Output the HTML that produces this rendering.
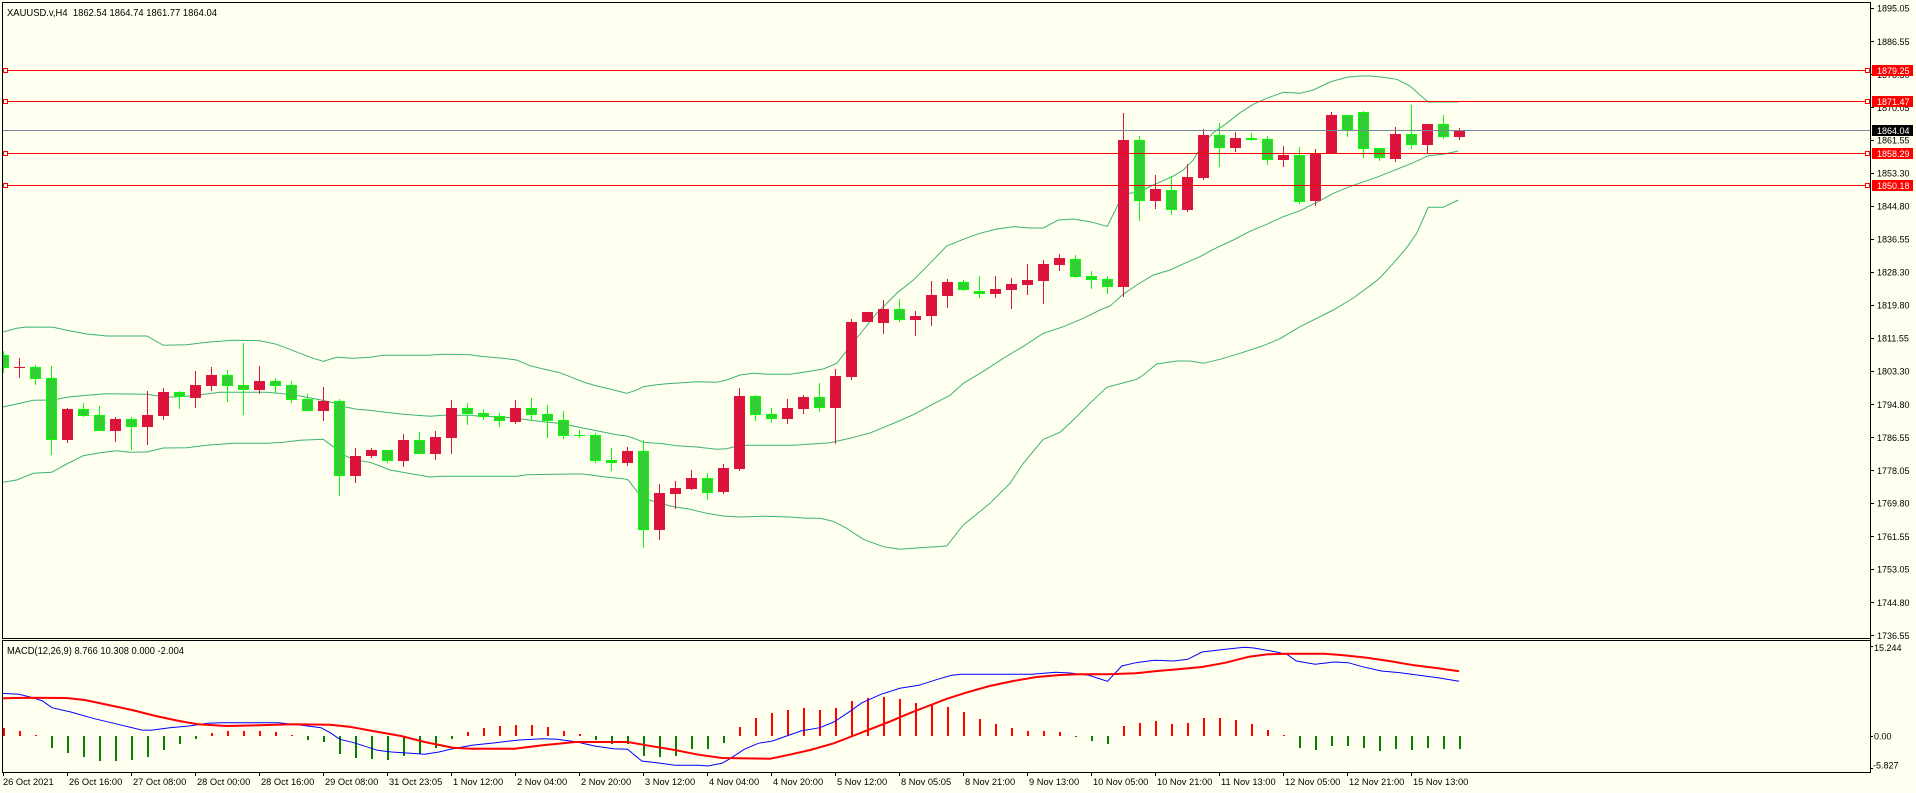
<!DOCTYPE html>
<html><head><meta charset="utf-8"><style>
html,body{margin:0;padding:0;background:#FFFFF0;width:1916px;height:793px;overflow:hidden}
svg{display:block}
text{font-family:"Liberation Sans",sans-serif;fill:#000}
</style></head><body>
<svg width="1916" height="793" viewBox="0 0 1916 793" xmlns="http://www.w3.org/2000/svg">
<defs>
<clipPath id="cm"><rect x="3" y="3" width="1867" height="635"/></clipPath>
<clipPath id="cd"><rect x="3" y="641" width="1867" height="131"/></clipPath>
</defs>
<rect x="0" y="0" width="1916" height="793" fill="#FFFFF0"/>

<g clip-path="url(#cm)">
<!-- Bollinger bands -->
<g fill="none" stroke="#3CB371" stroke-width="1">
<polyline points="2.7,332 16.7,328.3 26.7,327 53.3,327.3 66.7,330.3 86.7,334 106.7,336 146.7,336 163.3,345.3 186.7,344.7 206.7,342.3 233.3,340.3 260,340.7 276.7,344.3 300,353.3 313.3,358.3 323.3,361.3 336.7,357.3 353.3,358.3 370,357.3 383.3,355.3 410,355.3 428.3,355.3 443.3,354.3 470,354.7 480,356.3 503.3,358.3 516.7,360 530,365.7 543.3,369 560,372.7 570,376.7 583.3,382 596.7,386 610,389 626.7,393.3 636.7,390 643.3,386.7 656.7,384.7 666.7,383.7 696.7,381.7 716.7,382.3 726.7,380 740,375 753.3,373.3 770,374.3 790,374.3 806.7,371.7 823.3,369 836.7,363.3 850,346.7 863.3,330 876.7,313.3 896.7,293.3 913.3,280 930,263.3 946.7,246 963.3,239.3 980,233.3 996.7,229 1013.3,226.7 1030,228 1043.3,228 1058.3,220 1073.3,219 1090,221.7 1107.3,226.3 1123.3,194 1133.3,192.7 1143.3,190 1153.3,185 1163.3,180.7 1173.3,176 1183.3,170 1193.3,160 1203.3,143.3 1213.3,132.7 1226.7,123.3 1240,112.7 1253.3,104.3 1266.7,98.3 1283.3,92.3 1300,93.3 1313.3,90 1330,82 1346.7,77.3 1360,76 1370,76 1383.3,77.3 1396.7,79.3 1410,86 1420,95 1428.3,102 1458.3,102"/>
<polyline points="2.7,407 20,403.3 33.3,400.3 53.3,400 66.7,397.3 86.7,395.3 106.7,393.7 146.7,394.3 166.7,397.3 186.7,396.3 206.7,394 220,392.3 266.7,392.3 283.3,393.7 300,396 320,399.7 333.3,402.7 346.7,407.3 356.7,409.3 370,410.3 383.3,412 403.3,414.3 430,416.3 443.3,415.3 470,415.3 480,416.3 503.3,417 523.3,419.3 543.3,421.7 563.3,423.7 576.7,426.7 596.7,430.7 616.7,434.7 626.7,436 636.7,439.3 643.3,442.3 663.3,443.7 676.7,445.7 696.7,447 716.7,449.3 726.7,448.7 736.7,446 746.7,445.3 793.3,445.3 830,442.7 850,438.3 870,433 896.7,422 913.3,414.7 930,405.7 950,395.3 963.3,383.3 983.3,371.3 1003.3,358.3 1023.3,346.3 1043.3,333.3 1063.3,326.7 1083.3,318.3 1100,310 1110,306 1123.3,294.3 1136.7,285 1153.3,275 1170,270 1186.7,262.3 1200,256.7 1213.3,249.3 1233.3,240 1250,231.3 1266.7,224.3 1283.3,216.7 1300,210.7 1320,200.7 1333.3,193.3 1353.3,185.3 1376.7,177.3 1393.3,170.7 1413.3,162.7 1428.3,155.7 1443.3,154.3 1458.3,151"/>
<polyline points="2.7,482.3 16.7,480 33.3,473.3 51.7,472.3 66.7,464 83.3,455.7 100,452.7 116.7,450.7 130,452.3 146.7,452 163.3,448 186.7,447.7 206.7,445.3 233.3,443.3 266.7,443.3 283.3,442.3 300,440.3 323.3,439.3 333.3,446.7 346.7,456.7 360,460.7 370,462.3 380,466 390,470 406.7,473 430,477 443.3,476.3 516.7,476.3 526.7,474.7 570,474 583.3,474 603.3,476.7 623.3,478.7 628.3,480 633.3,486.7 640,495 646.7,499.3 670,506 690,509.3 706.7,513.3 723.3,516 740,517 763.3,516.3 790,517 806.7,518.3 820,518.3 833.3,521.3 846.7,528.3 863.3,539.3 883.3,546.7 900,549.3 920,547.7 946.7,546 963.3,525 990,503.3 1010,483.3 1023.3,463.3 1043.3,439.3 1060,432.3 1073.3,420 1090,403.3 1106.7,387.3 1123,383 1136.7,379.3 1143.3,375 1156.7,364 1176.7,361 1190,361 1203.3,363.3 1220,359.3 1240,353.3 1263.3,345.7 1280,338.7 1300,326.7 1320,316.7 1333.3,310 1353.3,298 1373.3,283.3 1380,277.7 1393.3,263.3 1406.7,247.7 1416.7,233.3 1428.3,207.3 1443.3,207.3 1458.3,200"/>
</g>

<!-- wicks -->
<path fill="none" stroke="#DC143C" stroke-width="1" d="M19.5 358V378M67.5 408V443M115.5 417V442M147.5 391V445M163.5 388V420M195.5 371V408M211.5 367V391M259.5 366V394M323.5 387V421M355.5 448V483M371.5 448V458M403.5 434V467M435.5 431V460M451.5 400V454M515.5 400V424M627.5 447V466M659.5 484V540M675.5 481V509M691.5 470V490M723.5 464V494M739.5 388V471M787.5 399V424M803.5 395V414M835.5 369V444M851.5 319V380M883.5 300V334M915.5 311V336M931.5 281V326M947.5 279V308M995.5 276V298M1011.5 278V309M1027.5 264V295M1043.5 260V304M1059.5 254V271M1123.5 113V297M1155.5 175V209M1187.5 164V212M1203.5 129V180M1235.5 132V152M1283.5 146V167M1315.5 149V206M1331.5 112V153M1395.5 127V162M1427.5 124V153M1459.5 128V140"/>
<path fill="none" stroke="#00FF00" stroke-width="1" d="M3.5 351V373M35.5 365V385M51.5 366V455M83.5 403V417M99.5 406V431M131.5 417V450M179.5 391V409M227.5 370V402M243.5 343V415M275.5 378V393M291.5 381V403M307.5 394V411M339.5 399V496M387.5 450V463M419.5 432V454M467.5 403V425M483.5 409V420M499.5 413V427M531.5 398V421M547.5 405V438M563.5 411V439M579.5 430V438M595.5 433V463M611.5 448V471M643.5 440V548M707.5 473V500M755.5 395V421M771.5 408V423M819.5 383V412M899.5 299V322M963.5 280V291M979.5 276V298M1075.5 255V278M1091.5 271V289M1107.5 276V294M1139.5 136V221M1171.5 176V215M1219.5 123V167M1251.5 133V141M1267.5 136V165M1299.5 147V204M1347.5 115V137M1363.5 111V158M1379.5 148V161M1411.5 105V149M1443.5 115V139"/>

<!-- red bodies -->
<g fill="#DC143C">
<rect x="14" y="367" width="11" height="1"/>
<rect x="62" y="409" width="11" height="31"/>
<rect x="110" y="419" width="11" height="12"/>
<rect x="142" y="415" width="11" height="12"/>
<rect x="158" y="392" width="11" height="24"/>
<rect x="190" y="385" width="11" height="13"/>
<rect x="206" y="375" width="11" height="11"/>
<rect x="254" y="381" width="11" height="9"/>
<rect x="318" y="401" width="11" height="10"/>
<rect x="350" y="456" width="11" height="20"/>
<rect x="366" y="450" width="11" height="6"/>
<rect x="398" y="440" width="11" height="21"/>
<rect x="430" y="437" width="11" height="17"/>
<rect x="446" y="408" width="11" height="30"/>
<rect x="510" y="408" width="11" height="14"/>
<rect x="622" y="451" width="11" height="12"/>
<rect x="654" y="493" width="11" height="37"/>
<rect x="670" y="488" width="11" height="6"/>
<rect x="686" y="478" width="11" height="11"/>
<rect x="718" y="468" width="11" height="24"/>
<rect x="734" y="396" width="11" height="73"/>
<rect x="782" y="408" width="11" height="11"/>
<rect x="798" y="397" width="11" height="12"/>
<rect x="830" y="376" width="11" height="32"/>
<rect x="846" y="322" width="11" height="55"/>
<rect x="862" y="312" width="11" height="10"/>
<rect x="878" y="309" width="11" height="14"/>
<rect x="910" y="316" width="11" height="4"/>
<rect x="926" y="295" width="11" height="21"/>
<rect x="942" y="282" width="11" height="14"/>
<rect x="990" y="289" width="11" height="5"/>
<rect x="1006" y="284" width="11" height="6"/>
<rect x="1022" y="280" width="11" height="5"/>
<rect x="1038" y="264" width="11" height="17"/>
<rect x="1054" y="258" width="11" height="7"/>
<rect x="1118" y="140" width="11" height="147"/>
<rect x="1150" y="189" width="11" height="12"/>
<rect x="1182" y="177" width="11" height="33"/>
<rect x="1198" y="135" width="11" height="43"/>
<rect x="1230" y="138" width="11" height="10"/>
<rect x="1278" y="155" width="11" height="5"/>
<rect x="1310" y="153" width="11" height="48"/>
<rect x="1326" y="115" width="11" height="38"/>
<rect x="1390" y="134" width="11" height="25"/>
<rect x="1422" y="124" width="11" height="21"/>
<rect x="1454" y="130" width="11" height="7"/>
</g>

<!-- green bodies -->
<g fill="#32CD32" stroke="#00FF00" stroke-width="1">
<rect x="-1.5" y="355.5" width="10" height="12"/>
<rect x="30.5" y="367.5" width="10" height="11"/>
<rect x="46.5" y="378.5" width="10" height="61"/>
<rect x="78.5" y="409.5" width="10" height="6"/>
<rect x="94.5" y="415.5" width="10" height="15"/>
<rect x="126.5" y="419.5" width="10" height="7"/>
<rect x="174.5" y="392.5" width="10" height="4"/>
<rect x="222.5" y="375.5" width="10" height="10"/>
<rect x="238.5" y="385.5" width="10" height="4"/>
<rect x="270.5" y="381.5" width="10" height="4"/>
<rect x="286.5" y="385.5" width="10" height="14"/>
<rect x="302.5" y="399.5" width="10" height="11"/>
<rect x="334.5" y="401.5" width="10" height="74"/>
<rect x="382.5" y="450.5" width="10" height="10"/>
<rect x="414.5" y="440.5" width="10" height="13"/>
<rect x="462.5" y="408.5" width="10" height="5"/>
<rect x="478.5" y="413.5" width="10" height="3"/>
<rect x="494.5" y="416.5" width="10" height="4"/>
<rect x="526.5" y="408.5" width="10" height="6"/>
<rect x="542.5" y="414.5" width="10" height="6"/>
<rect x="558.5" y="420.5" width="10" height="15"/>
<rect x="590.5" y="435.5" width="10" height="25"/>
<rect x="606.5" y="460.5" width="10" height="2"/>
<rect x="638.5" y="451.5" width="10" height="78"/>
<rect x="702.5" y="478.5" width="10" height="14"/>
<rect x="750.5" y="396.5" width="10" height="18"/>
<rect x="766.5" y="414.5" width="10" height="4"/>
<rect x="814.5" y="397.5" width="10" height="10"/>
<rect x="894.5" y="309.5" width="10" height="10"/>
<rect x="958.5" y="282.5" width="10" height="7"/>
<rect x="974.5" y="291.5" width="10" height="2"/>
<rect x="1070.5" y="259.5" width="10" height="17"/>
<rect x="1086.5" y="276.5" width="10" height="3"/>
<rect x="1102.5" y="279.5" width="10" height="7"/>
<rect x="1134.5" y="140.5" width="10" height="60"/>
<rect x="1166.5" y="190.5" width="10" height="19"/>
<rect x="1214.5" y="135.5" width="10" height="12"/>
<rect x="1262.5" y="139.5" width="10" height="20"/>
<rect x="1294.5" y="155.5" width="10" height="46"/>
<rect x="1342.5" y="115.5" width="10" height="14"/>
<rect x="1358.5" y="112.5" width="10" height="36"/>
<rect x="1374.5" y="148.5" width="10" height="9"/>
<rect x="1406.5" y="134.5" width="10" height="10"/>
<rect x="1438.5" y="124.5" width="10" height="12"/>
</g>
<rect x="574" y="435" width="11" height="1" fill="#00FF00"/>
<rect x="1246" y="138" width="11" height="2" fill="#00FF00"/>

<!-- horizontal lines -->
<g stroke-width="1" fill="none">
<line x1="2" y1="130.5" x2="1870" y2="130.5" stroke="#778899"/>
<line x1="2" y1="70.5" x2="1870" y2="70.5" stroke="#FF0000"/>
<line x1="2" y1="101.5" x2="1870" y2="101.5" stroke="#FF0000"/>
<line x1="2" y1="153.5" x2="1870" y2="153.5" stroke="#FF0000"/>
<line x1="2" y1="185.5" x2="1870" y2="185.5" stroke="#FF0000"/>
</g>
<g fill="#FFFFF0" stroke="#FF0000" stroke-width="1">
<rect x="3.5" y="68.5" width="4" height="4"/><rect x="1865.5" y="68.5" width="4" height="4"/>
<rect x="3.5" y="99.5" width="4" height="4"/><rect x="1865.5" y="99.5" width="4" height="4"/>
<rect x="3.5" y="151.5" width="4" height="4"/><rect x="1865.5" y="151.5" width="4" height="4"/>
<rect x="3.5" y="183.5" width="4" height="4"/><rect x="1865.5" y="183.5" width="4" height="4"/>
</g>
</g>

<!-- MACD -->
<g clip-path="url(#cd)">
<path fill="none" stroke="#FF0000" stroke-width="2" d="M4 728V736M20 731V736M36 735V736M212 733V736M228 731V736M244 731V736M260 731V736M276 732V736M292 735V736M468 732V736M484 728V736M500 726V736M516 725V736M532 725V736M548 727V736M564 731V736M580 734V736M740 727V736M756 718V736M772 713V736M788 710V736M804 708V736M820 710V736M836 708V736M852 701V736M868 698V736M884 697V736M900 699V736M916 703V736M932 704V736M948 707V736M964 712V736M980 719V736M996 724V736M1012 728V736M1028 731V736M1044 731V736M1060 732V736M1124 726V736M1140 723V736M1156 721V736M1172 724V736M1188 723V736M1204 718V736M1220 718V736M1236 720V736M1252 724V736M1268 730V736M1284 735V736"/>
<path fill="none" stroke="#008000" stroke-width="2" d="M52 736V748M68 736V753M84 736V757M100 736V761M116 736V761M132 736V760M148 736V757M164 736V750M180 736V744M196 736V739M308 736V740M324 736V742M340 736V754M356 736V758M372 736V759M388 736V760M404 736V756M420 736V754M436 736V748M452 736V739M596 736V740M612 736V744M628 736V744M644 736V756M660 736V757M676 736V756M692 736V749M708 736V749M724 736V743M1076 736V737M1092 736V741M1108 736V744M1300 736V748M1316 736V750M1332 736V746M1348 736V746M1364 736V748M1380 736V751M1396 736V749M1412 736V750M1428 736V748M1444 736V749M1460 736V749"/>
<polyline fill="none" stroke="#0000FF" stroke-width="1" points="2.4,693.3 18.9,694.3 33,697.7 42.5,701 51.9,707.7 70.8,712 94.4,718.7 118,724.3 141.6,730 151,730.3 169.9,727.7 188.8,726 207.6,723.3 221.8,722.7 278.4,722.7 302,725.3 320.9,727.7 330.3,732.7 339.8,739.3 353.9,742.7 377.5,750.3 391.7,752 410.6,753.3 424.7,754.3 438.9,752 453,748.7 471.9,745.3 495.5,742.7 519.1,740 542.7,738.7 556.9,739.3 575.7,741.7 594.6,746 613.5,748.7 627.6,749.3 641.8,761 660.7,763.3 674.8,765.3 698.4,765.3 707.9,766 722,763.3 730,758.7 744.2,749.3 758.3,743.3 772.5,741 786.6,736 800.8,731 819.7,727.7 833.8,722 848,712.7 862.1,702.7 881,694.3 899.9,688.3 918.8,685.3 937.6,679.3 951.8,675.3 961.2,674.3 1032,674.3 1055.6,672.3 1069.8,673 1088.7,675.3 1107.5,681.3 1121.7,666 1135.8,662.7 1154.7,660.3 1173.6,661 1187.8,659.3 1201.9,652 1225.5,649.3 1244.4,647.3 1253.8,648 1272.7,651.3 1286.9,654.3 1296.4,661 1315.2,664.3 1334.1,662 1348.3,662.7 1362.4,666.7 1381.3,671 1400.2,672.7 1419,675.3 1437.9,677.7 1459.1,681.3"/>
<polyline fill="none" stroke="#FF0000" stroke-width="2" points="2.4,698.3 28.3,697.7 66.1,698 84.9,700 108.5,705 132.1,710 155.7,716 179.3,721 198.2,724.3 226.5,726 259.6,725.3 292.6,724.3 330.3,724.7 349.2,726.7 372.8,731 401.1,736 424.7,742 453,747.7 471.9,748.7 514.4,748.7 542.7,745.3 575.7,742 627.6,742 646.5,745.3 674.8,750 698.4,754.7 722,758 770.1,758.7 786.6,755.3 810.2,750 833.8,743.3 852.7,736 871.6,728.7 890.5,721.3 909.3,713.3 928.2,706 947.1,698.7 966,692.7 989.6,686 1013.2,681 1036.7,677 1060.3,675 1079.2,674.3 1107.5,674.3 1135.8,673.3 1154.7,671.3 1183,668.7 1201.9,667 1225.5,662.7 1249.1,656.7 1268,654.3 1286.9,653.7 1324.6,653.7 1343.5,655.3 1367.1,657.7 1390.7,661.3 1414.3,665.3 1437.9,668.3 1459.1,671.3"/>
</g>

<!-- frames -->
<g fill="none" stroke="#000" stroke-width="1">
<rect x="2.5" y="2.5" width="1868" height="636"/>
<rect x="2.5" y="640.5" width="1868" height="132"/>
<line x1="1870.5" y1="2" x2="1870.5" y2="773"/>
</g>

<!-- headers -->
<text x="7" y="16" font-size="10" textLength="210" lengthAdjust="spacingAndGlyphs">XAUUSD.v,H4&#160; 1862.54 1864.74 1861.77 1864.04</text>
<text x="7" y="654" font-size="10" textLength="177" lengthAdjust="spacingAndGlyphs">MACD(12,26,9) 8.766 10.308 0.000 -2.004</text>

<!-- right axis ticks -->
<path stroke="#000" stroke-width="1" fill="none" d="M1870 8.5H1874M1870 41.5H1874M1870 74.5H1874M1870 107.5H1874M1870 140.5H1874M1870 173.5H1874M1870 206.5H1874M1870 239.5H1874M1870 272.5H1874M1870 305.5H1874M1870 338.5H1874M1870 371.5H1874M1870 404.5H1874M1870 437.5H1874M1870 470.5H1874M1870 503.5H1874M1870 536.5H1874M1870 569.5H1874M1870 602.5H1874M1870 635.5H1874M1870 736.5H1873M1870 646.5H1873M1870 768.5H1873"/>
<g font-size="9">
<text x="1877" y="11.5">1895.05</text>
<text x="1877" y="45">1886.55</text>
<text x="1877" y="77.8">1878.30</text>
<text x="1877" y="111">1870.05</text>
<text x="1877" y="143.3">1861.55</text>
<text x="1877" y="176.6">1853.30</text>
<text x="1877" y="209.3">1844.80</text>
<text x="1877" y="242.6">1836.55</text>
<text x="1877" y="275.6">1828.30</text>
<text x="1877" y="308.6">1819.80</text>
<text x="1877" y="341.6">1811.55</text>
<text x="1877" y="374.6">1803.30</text>
<text x="1877" y="408">1794.80</text>
<text x="1877" y="441">1786.55</text>
<text x="1877" y="474">1778.05</text>
<text x="1877" y="506.6">1769.80</text>
<text x="1877" y="540">1761.55</text>
<text x="1877" y="572.6">1753.05</text>
<text x="1877" y="606">1744.80</text>
<text x="1877" y="639">1736.55</text>
<text x="1874" y="651">15.244</text>
<text x="1874" y="739.3">0.00</text>
<text x="1873" y="768.3">-5.827</text>
</g>
<!-- price labels -->
<rect x="1872" y="65" width="41" height="11" fill="#FF0000"/>
<rect x="1872" y="96" width="41" height="11" fill="#FF0000"/>
<rect x="1872" y="125" width="41" height="11" fill="#000"/>
<rect x="1872" y="148" width="41" height="11" fill="#FF0000"/>
<rect x="1872" y="180" width="41" height="11" fill="#FF0000"/>
<g font-size="9" style="fill:#fff">
<text x="1877" y="73.8" style="fill:#fff">1879.25</text>
<text x="1877" y="104.8" style="fill:#fff">1871.47</text>
<text x="1877" y="133.8" style="fill:#fff">1864.04</text>
<text x="1877" y="156.8" style="fill:#fff">1858.29</text>
<text x="1877" y="188.8" style="fill:#fff">1850.18</text>
</g>

<!-- time axis -->
<path stroke="#000" stroke-width="1" fill="none" d="M3.5 772V776M67.5 772V776M131.5 772V776M195.5 772V776M259.5 772V776M323.5 772V776M387.5 772V776M451.5 772V776M515.5 772V776M579.5 772V776M643.5 772V776M707.5 772V776M771.5 772V776M835.5 772V776M899.5 772V776M963.5 772V776M1027.5 772V776M1091.5 772V776M1155.5 772V776M1219.5 772V776M1283.5 772V776M1347.5 772V776M1411.5 772V776"/>
<g font-size="9.3">
<text x="3" y="785">26 Oct 2021</text>
<text x="69" y="785">26 Oct 16:00</text>
<text x="133" y="785">27 Oct 08:00</text>
<text x="197" y="785">28 Oct 00:00</text>
<text x="261" y="785">28 Oct 16:00</text>
<text x="325" y="785">29 Oct 08:00</text>
<text x="389" y="785">31 Oct 23:05</text>
<text x="453" y="785">1 Nov 12:00</text>
<text x="517" y="785">2 Nov 04:00</text>
<text x="581" y="785">2 Nov 20:00</text>
<text x="645" y="785">3 Nov 12:00</text>
<text x="709" y="785">4 Nov 04:00</text>
<text x="773" y="785">4 Nov 20:00</text>
<text x="837" y="785">5 Nov 12:00</text>
<text x="901" y="785">8 Nov 05:05</text>
<text x="965" y="785">8 Nov 21:00</text>
<text x="1029" y="785">9 Nov 13:00</text>
<text x="1093" y="785">10 Nov 05:00</text>
<text x="1157" y="785">10 Nov 21:00</text>
<text x="1221" y="785">11 Nov 13:00</text>
<text x="1285" y="785">12 Nov 05:00</text>
<text x="1349" y="785">12 Nov 21:00</text>
<text x="1413" y="785">15 Nov 13:00</text>
</g>
</svg>
</body></html>
